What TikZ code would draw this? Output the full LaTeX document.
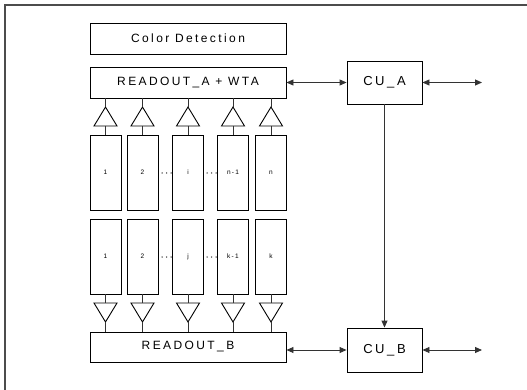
\documentclass[tikz,border=0pt]{standalone}
\usepackage{fontspec}
\setmainfont{Liberation Sans}
\usetikzlibrary{arrows.meta}
\begin{document}
\begin{tikzpicture}[x=1pt,y=-1pt,
  box/.style={draw=black,line width=0.9pt,inner sep=0pt,font=\fontsize{12}{14}\selectfont\addfontfeature{LetterSpace=20}},
  col/.style={draw=black,line width=0.9pt,inner sep=0pt,minimum width=31pt,minimum height=75pt,font=\fontsize{6.5}{7}\selectfont\addfontfeature{LetterSpace=20}},
  conn/.style={line width=0.9pt,draw=black!80},
  arr/.style={conn,{Triangle[length=7pt,width=6pt]}-{Triangle[length=7pt,width=6pt]}},
  arrone/.style={conn,-{Triangle[length=7pt,width=6pt]}},
  tri/.style={draw=black,line width=0.9pt}
]
\useasboundingbox (0,0) rectangle (527,390);
\draw[line width=1.3pt,draw=black!70] (5,390) -- (5,5) -- (527,5);

\node[box,minimum width=196pt,minimum height=31pt] (cd) at (188,38.5) {Color Detection};
\node[box,minimum width=196pt,minimum height=31pt] (ra) at (188,82.5) {READOUT\_A + WTA};
\node[box,minimum width=196pt,minimum height=30pt] (rb) at (188,347) {READOUT\_B};
\node[box,minimum width=75pt,minimum height=43pt,font=\fontsize{13}{15}\selectfont\addfontfeature{LetterSpace=20}] (cua) at (384.5,82.5) {CU\_A};
\node[box,minimum width=75pt,minimum height=44pt,font=\fontsize{13}{15}\selectfont\addfontfeature{LetterSpace=20}] (cub) at (384.5,350) {CU\_B};

\coordinate (oa) at (482,82.5);
\coordinate (ob) at (482,350);
\draw[arr] (ra.east) -- (cua.west);
\draw[arr] (cua.east) -- (oa);
\draw[arr] (rb.east |- cub.west) -- (cub.west);
\draw[arr] (cub.east) -- (ob);
\draw[arrone] (cua.south) -- (cub.north);

% upper columns
\foreach \n/\x/\t in {u1/105.5/1,u2/142.5/2,u3/188/i,u4/233/n-1,u5/271/n}{
  \node[col] (\n) at (\x,172.5) {\t};
  \draw[tri] (\x-11.5,126) -- (\x,107) -- (\x+11.5,126) -- cycle;
  \draw[conn] (\x,98) -- (\x,107);
  \draw[conn] (\x,126) -- (\n.north);
}
% lower columns
\foreach \n/\x/\t in {l1/105.5/1,l2/142.5/2,l3/188/j,l4/233/k-1,l5/271/k}{
  \node[col] (\n) at (\x,256.5) {\t};
  \draw[tri] (\x-11.5,303) -- (\x,322) -- (\x+11.5,303) -- cycle;
  \draw[conn] (\n.south) -- (\x,303);
  \draw[conn] (\x,322) -- (\x,332);
}
% dots
\foreach \y in {173,257}{
  \foreach \x in {162,166.5,171,207,211.5,216}{
    \fill[black!80] (\x,\y) circle (0.75pt);
  }
}
\end{tikzpicture}
\end{document}
